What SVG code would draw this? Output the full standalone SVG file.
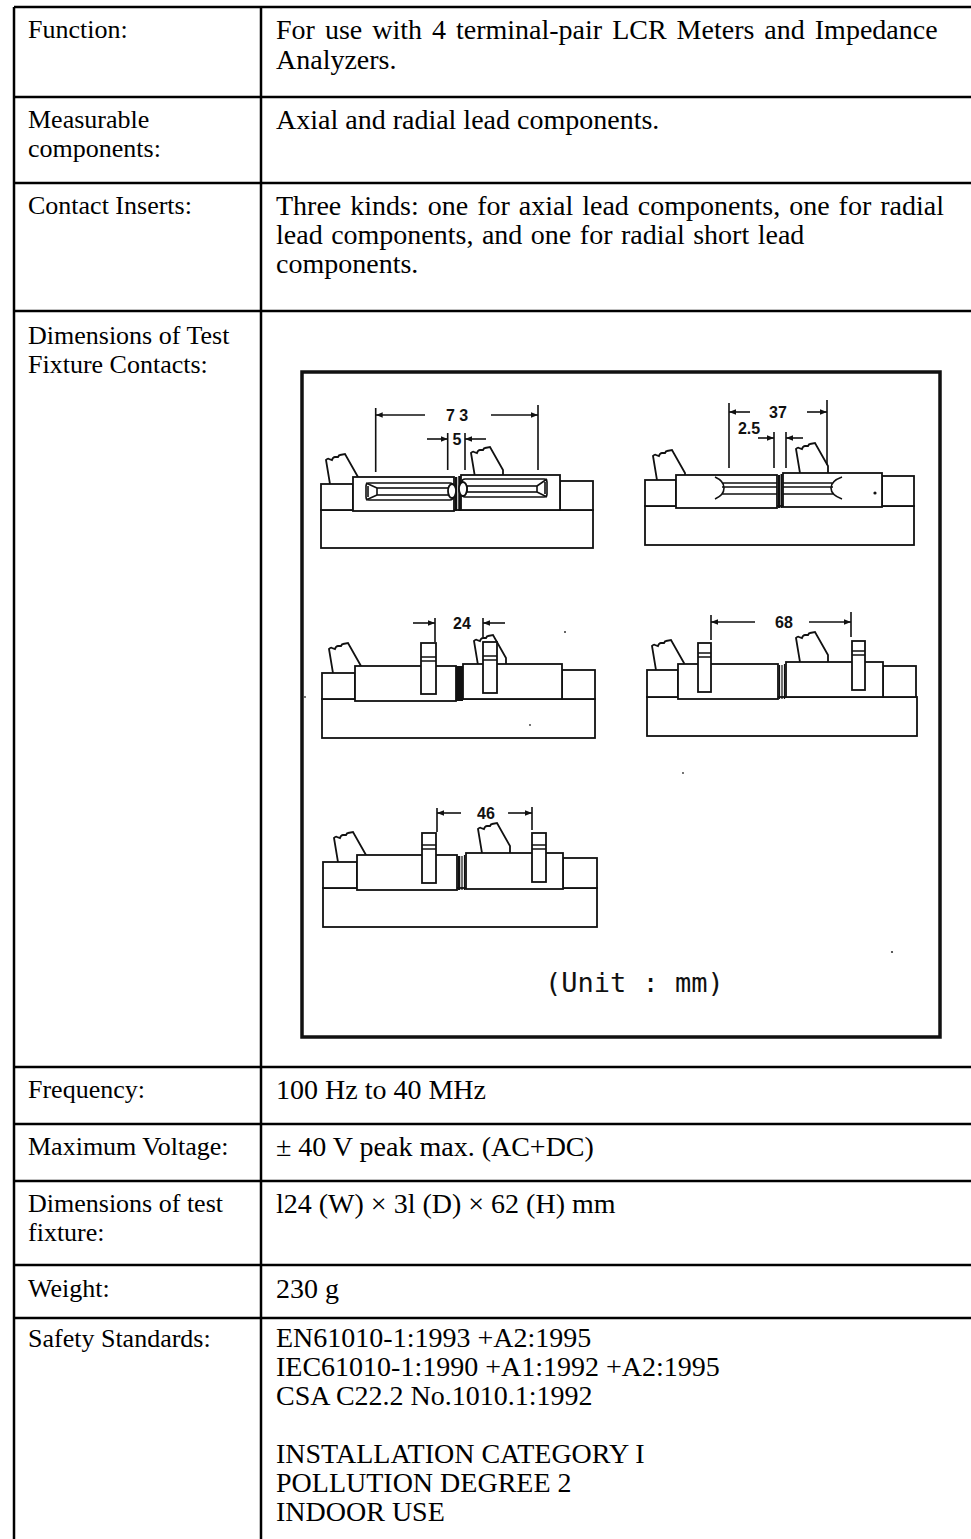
<svg xmlns="http://www.w3.org/2000/svg" width="971" height="1539" viewBox="0 0 971 1539">
<style>
.t{font-family:"Liberation Serif","Times New Roman",serif;font-size:26px;fill:#000}
.r{font-family:"Liberation Serif","Times New Roman",serif;font-size:28px;fill:#000}
.grid{stroke:#000;stroke-width:2.5;fill:none}
.d{stroke:#111;stroke-width:1.8;fill:#fff}
.dl{stroke:#111;stroke-width:1.6;fill:none}
.lbl{font-family:"Liberation Sans",Arial,sans-serif;font-weight:bold;font-size:16px;fill:#111;text-anchor:middle}
.unit{font-family:"DejaVu Sans Mono","Liberation Mono",monospace;font-size:27px;fill:#111}
</style>
<defs>
<marker id="arr" viewBox="0 0 10 10" refX="10" refY="5" markerWidth="7" markerHeight="7" markerUnits="userSpaceOnUse" orient="auto">
<path d="M0,1 L10,5 L0,9 z" fill="#111"/>
</marker>
<path id="clip" d="M0,8 L0,0 L-4,-24 Q-2,-26 -1,-25 L2,-24 Q3,-27 5,-27 L8,-27 Q9,-29 10,-29 L15,-30 L28,-7 L28,8 Z"/>
</defs>
<rect width="971" height="1539" fill="#fff"/>

<g id="table-grid" class="grid">
<line x1="14" y1="7" x2="971" y2="7"/>
<line x1="14" y1="7" x2="14" y2="1539"/>
<line x1="261" y1="7" x2="261" y2="1539"/>
<line x1="14" y1="97" x2="971" y2="97"/>
<line x1="14" y1="183" x2="971" y2="183"/>
<line x1="14" y1="311" x2="971" y2="311"/>
<line x1="14" y1="1067" x2="971" y2="1067"/>
<line x1="14" y1="1124" x2="971" y2="1124"/>
<line x1="14" y1="1181" x2="971" y2="1181"/>
<line x1="14" y1="1265" x2="971" y2="1265"/>
<line x1="14" y1="1318" x2="971" y2="1318"/>
</g>

<g id="row-function">
<text class="t" x="28" y="38">Function:</text>
<text class="r" x="276" y="39" word-spacing="3">For use with 4 terminal-pair LCR Meters and Impedance</text>
<text class="r" x="276" y="69">Analyzers.</text>
</g>
<g id="row-measurable">
<text class="t" x="28" y="128">Measurable</text>
<text class="t" x="28" y="157">components:</text>
<text class="r" x="276" y="129">Axial and radial lead components.</text>
</g>
<g id="row-contact">
<text class="t" x="28" y="214">Contact Inserts:</text>
<text class="r" x="276" y="215" word-spacing="2">Three kinds: one for axial lead components, one for radial</text>
<text class="r" x="276" y="244" word-spacing="1.5">lead components, and one for radial short lead</text>
<text class="r" x="276" y="273">components.</text>
</g>
<g id="row-dimensions">
<text class="t" x="28" y="344">Dimensions of Test</text>
<text class="t" x="28" y="373">Fixture Contacts:</text>
</g>
<g id="row-frequency">
<text class="t" x="28" y="1098">Frequency:</text>
<text class="r" x="276" y="1099">100 Hz to 40 MHz</text>
</g>
<g id="row-voltage">
<text class="t" x="28" y="1155">Maximum Voltage:</text>
<text class="r" x="276" y="1156">± 40 V peak max. (AC+DC)</text>
</g>
<g id="row-size">
<text class="t" x="28" y="1212">Dimensions of test</text>
<text class="t" x="28" y="1241">fixture:</text>
<text class="r" x="276" y="1213">l24 (W) × 3l (D) × 62 (H) mm</text>
</g>
<g id="row-weight">
<text class="t" x="28" y="1297">Weight:</text>
<text class="r" x="276" y="1298">230 g</text>
</g>
<g id="row-safety">
<text class="t" x="28" y="1347">Safety Standards:</text>
<text class="r" x="276" y="1347">EN61010-1:1993 +A2:1995</text>
<text class="r" x="276" y="1376">IEC61010-1:1990 +A1:1992 +A2:1995</text>
<text class="r" x="276" y="1405">CSA C22.2 No.1010.1:1992</text>
<text class="r" x="276" y="1463">INSTALLATION CATEGORY I</text>
<text class="r" x="276" y="1492">POLLUTION DEGREE 2</text>
<text class="r" x="276" y="1521">INDOOR USE</text>
</g>

<g id="figure">
<rect x="302" y="372" width="638" height="665" fill="none" stroke="#111" stroke-width="3.5"/>

<g id="fixture-axial">
<rect class="d" x="321" y="510" width="272" height="38"/>
<use href="#clip" class="d" x="330" y="484"/>
<use href="#clip" class="d" x="475" y="477"/>
<rect class="d" x="321" y="484" width="32" height="26"/>
<rect class="d" x="560" y="481" width="33" height="29"/>
<rect class="d" x="353" y="477" width="101" height="34"/>
<rect class="d" x="461" y="475" width="99" height="35"/>
<line x1="456" y1="477" x2="456" y2="511" stroke="#111" stroke-width="2.5"/>
<line x1="459.5" y1="476" x2="459.5" y2="511" stroke="#111" stroke-width="2.5"/>
<rect class="dl" x="366" y="483" width="87" height="17" rx="3"/>
<rect class="dl" x="377" y="488" width="72" height="7"/>
<path class="dl" d="M366,483 L377,488 M366,500 L377,495 M368,486 L368,497"/>
<ellipse class="d" cx="452" cy="491" rx="4" ry="7"/>
<rect class="dl" x="462" y="479" width="85" height="18" rx="3"/>
<rect class="dl" x="467" y="486" width="70" height="6"/>
<path class="dl" d="M547,479 L537,486 M547,497 L537,492 M545,482 L545,494"/>
<ellipse class="d" cx="463" cy="489" rx="4" ry="7"/>
<path class="dl" d="M375.7,408 V472 M538,405 V470 M447.7,433 V470 M465,433 V470"/>
<line class="dl" x1="425" y1="415" x2="375.7" y2="415" marker-end="url(#arr)"/>
<line class="dl" x1="491" y1="415" x2="538" y2="415" marker-end="url(#arr)"/>
<line class="dl" x1="427" y1="439" x2="447.7" y2="439" marker-end="url(#arr)"/>
<line class="dl" x1="486" y1="439" x2="465" y2="439" marker-end="url(#arr)"/>
<text class="lbl" x="457" y="421" font-size="17">7 3</text>
<text class="lbl" x="457" y="445">5</text>
</g>

<g id="fixture-axial-short">
<rect class="d" x="645" y="506" width="269" height="39"/>
<use href="#clip" class="d" x="657" y="480"/>
<use href="#clip" class="d" x="800" y="473"/>
<rect class="d" x="645" y="480" width="31" height="26"/>
<rect class="d" x="882" y="476" width="32" height="30"/>
<rect class="d" x="676" y="475" width="101" height="33"/>
<rect class="d" x="783" y="473" width="99" height="34"/>
<line x1="779" y1="475" x2="779" y2="508" stroke="#111" stroke-width="2"/>
<line x1="781.5" y1="474" x2="781.5" y2="508" stroke="#111" stroke-width="2"/>
<path class="dl" d="M722,483 H777 M722,487 H777 M722,494 H777 M715,477 Q724,481 724,488 Q724,495 715,499"/>
<path class="dl" d="M783,483 H833 M783,487 H833 M783,494 H833 M842,477 Q831,481 831,488 Q831,495 842,499"/>
<circle cx="875" cy="493" r="1.6" fill="#111"/>
<path class="dl" d="M729,403 V468 M827,400 V465 M774,432 V468 M786,432 V468"/>
<line class="dl" x1="750" y1="412" x2="729" y2="412" marker-end="url(#arr)"/>
<line class="dl" x1="807" y1="412" x2="827" y2="412" marker-end="url(#arr)"/>
<line class="dl" x1="758" y1="438" x2="774" y2="438" marker-end="url(#arr)"/>
<line class="dl" x1="803" y1="438" x2="786" y2="438" marker-end="url(#arr)"/>
<text class="lbl" x="778" y="418" font-size="17">37</text>
<text class="lbl" x="749" y="434" font-size="14">2.5</text>
</g>

<g id="fixture-radial-24">
<rect class="d" x="322" y="699" width="273" height="39"/>
<use href="#clip" class="d" x="333" y="673"/>
<use href="#clip" class="d" x="478" y="665"/>
<rect class="d" x="322" y="673" width="33" height="26"/>
<rect class="d" x="562" y="670" width="33" height="29"/>
<rect class="d" x="355" y="666" width="101" height="35"/>
<rect class="d" x="463" y="664" width="99" height="35"/>
<rect x="456" y="666" width="7" height="35" fill="#111"/>
<rect class="d" x="421" y="643" width="15" height="51"/>
<path class="dl" d="M421,657 H436 M421,661 H436"/>
<rect class="d" x="483" y="642" width="14" height="51"/>
<path class="dl" d="M483,656 H497 M483,660 H497"/>
<path class="dl" d="M435,618 V642 M483,618 V637"/>
<line class="dl" x1="413" y1="623" x2="435" y2="623" marker-end="url(#arr)"/>
<line class="dl" x1="505" y1="623" x2="483" y2="623" marker-end="url(#arr)"/>
<text class="lbl" x="462" y="629" font-size="17">24</text>
</g>

<g id="fixture-radial-68">
<rect class="d" x="647" y="697" width="270" height="39"/>
<use href="#clip" class="d" x="656" y="670"/>
<use href="#clip" class="d" x="800" y="662"/>
<rect class="d" x="647" y="670" width="31" height="27"/>
<rect class="d" x="883" y="666" width="33" height="31"/>
<rect class="d" x="678" y="664" width="100" height="35"/>
<rect class="d" x="786" y="662" width="97" height="35"/>
<path d="M779.5,665 V699 M782,665 V699 M784.5,664 V699" stroke="#111" stroke-width="1.2"/>
<rect class="d" x="698" y="643" width="13" height="49"/>
<path class="dl" d="M698,653 H711 M698,657 H711"/>
<rect class="d" x="852" y="641" width="13" height="49"/>
<path class="dl" d="M852,651 H865 M852,655 H865"/>
<path class="dl" d="M711,615 V640 M851,612 V637"/>
<line class="dl" x1="755" y1="622" x2="711" y2="622" marker-end="url(#arr)"/>
<line class="dl" x1="809" y1="622" x2="851" y2="622" marker-end="url(#arr)"/>
<text class="lbl" x="784" y="628" font-size="17">68</text>
</g>

<g id="fixture-radial-46">
<rect class="d" x="323" y="888" width="274" height="39"/>
<use href="#clip" class="d" x="338" y="862"/>
<use href="#clip" class="d" x="482" y="853"/>
<rect class="d" x="323" y="862" width="34" height="26"/>
<rect class="d" x="563" y="858" width="34" height="30"/>
<rect class="d" x="357" y="855" width="100" height="35"/>
<rect class="d" x="466" y="853" width="97" height="36"/>
<path d="M459,856 V890" stroke="#111" stroke-width="2.5"/>
<path d="M462,856 V890 M464.5,855 V890" stroke="#111" stroke-width="1.2"/>
<rect class="d" x="422" y="833" width="14" height="50"/>
<path class="dl" d="M422,845 H436 M422,849 H436"/>
<rect class="d" x="532" y="833" width="14" height="49"/>
<path class="dl" d="M532,845 H546 M532,849 H546"/>
<path class="dl" d="M437,808 V832 M532,807 V830"/>
<line class="dl" x1="461" y1="813" x2="437" y2="813" marker-end="url(#arr)"/>
<line class="dl" x1="508" y1="813" x2="532" y2="813" marker-end="url(#arr)"/>
<text class="lbl" x="486" y="819" font-size="17">46</text>
</g>

<text class="unit" x="545" y="992">(Unit : mm)</text>
<g fill="#333">
<circle cx="565" cy="632" r="1"/>
<circle cx="530" cy="725" r="0.9"/>
<circle cx="683" cy="773" r="0.9"/>
<circle cx="892" cy="952" r="1.1"/>
<circle cx="305" cy="697" r="0.9"/>
</g>
</g>
</svg>
